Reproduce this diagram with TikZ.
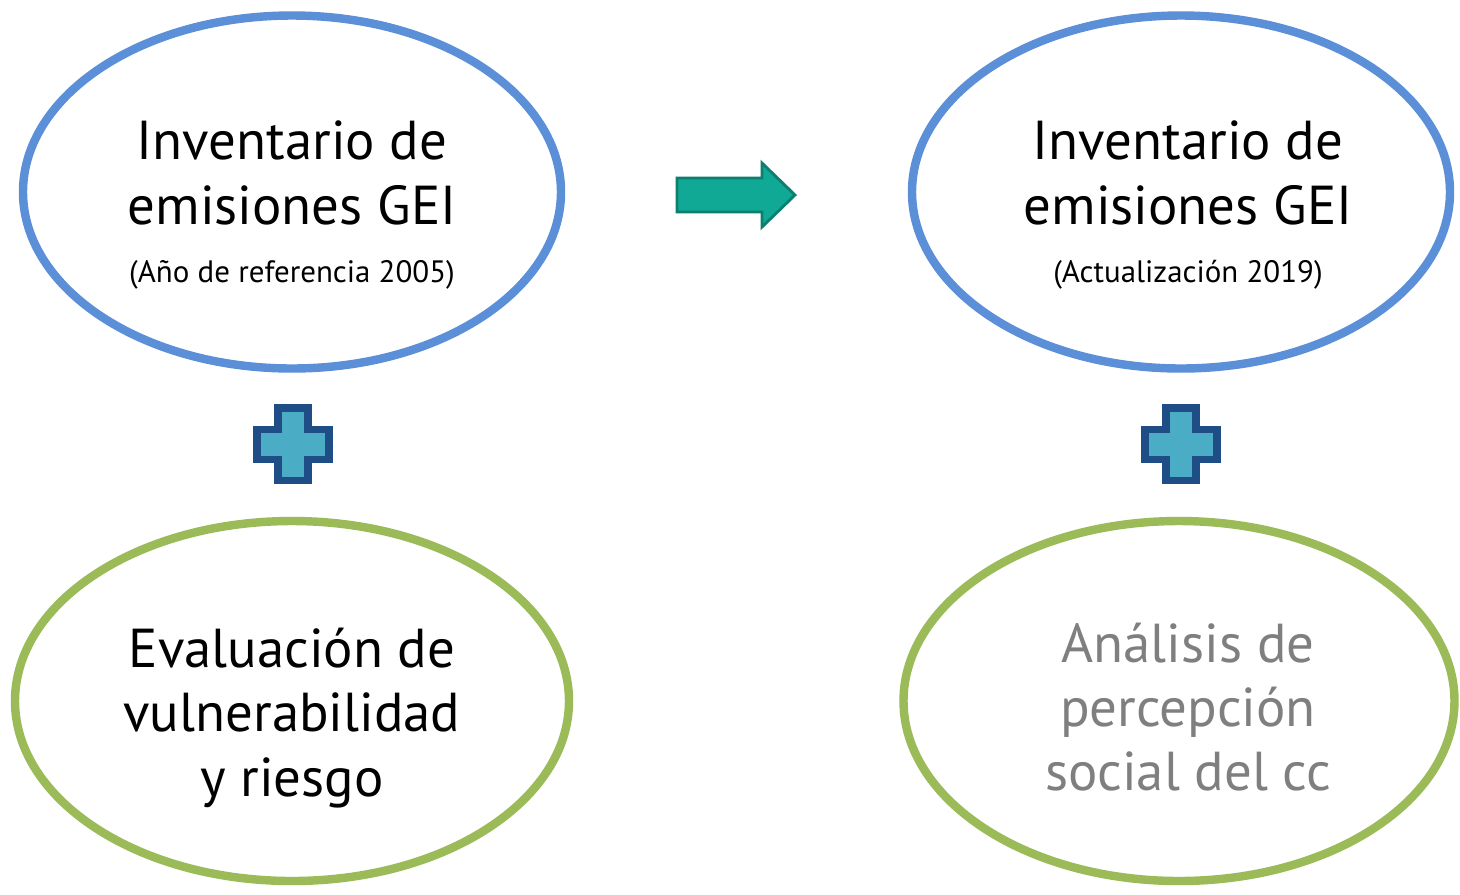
\documentclass[tikz,border=0pt]{standalone}
\usepackage{fontspec}
\setmainfont{PT Sans}
\usetikzlibrary{shapes.geometric}

\definecolor{ringblue}{HTML}{5B8FD7}
\definecolor{ringgreen}{HTML}{9BBB59}
\definecolor{plusfill}{HTML}{4BACC6}
\definecolor{plusline}{HTML}{1F4E87}
\definecolor{arrowfill}{HTML}{0FA995}
\definecolor{arrowline}{HTML}{0E7F6E}
\definecolor{softgray}{HTML}{7F7F7F}

\tikzset{
  ring/.style={ellipse, draw, line width=2.4pt, inner sep=0pt,
    minimum width=5.38cm, minimum height=3.53cm},
  bigtext/.style={align=center, font=\fontsize{15.6}{18.3}\selectfont},
  smalltext/.style={font=\fontsize{8.8}{11}\selectfont},
  plusmark/.style={fill=plusfill, draw=plusline, line width=2pt},
  pusharrow/.style={fill=arrowfill, draw=arrowline, line width=0.8pt}
}

\begin{document}
\begin{tikzpicture}
\useasboundingbox (0,0) rectangle (14.6,-8.94);

% top row: inventories
\node [ring, draw=ringblue] (inv1) at (2.92,-1.92) {};
\node [ring, draw=ringblue] (inv2) at (11.81,-1.92) {};
\node [bigtext] (inv1txt) at (2.92,-1.73) {Inventario de\\emisiones GEI};
\node [smalltext] (inv1sub) at (2.92,-2.75) {(Año de referencia 2005)};
\node [bigtext] (inv2txt) at (11.88,-1.73) {Inventario de\\emisiones GEI};
\node [smalltext] (inv2sub) at (11.88,-2.75) {(Actualización 2019)};

% bottom row
\node [ring, draw=ringgreen, minimum width=5.54cm, minimum height=3.6cm] (vul) at (2.92,-7.01) {};
\node [ring, draw=ringgreen, minimum width=5.51cm, minimum height=3.6cm] (per) at (11.79,-7.01) {};
\node [bigtext] (vultxt) at (2.92,-7.18) {Evaluación de\\vulnerabilidad\\y riesgo};
\node [bigtext, text=softgray] (pertxt) at (11.88,-7.07) {Análisis de\\percepción\\social del cc};

% plus signs
\foreach \cx/\nm in {2.93/plusA, 11.81/plusB} {
  \coordinate (\nm) at (\cx,-4.44);
  \draw [plusmark] ([shift={(-0.15,0.36)}]\nm) -- ++(0.30,0) -- ++(0,-0.21)
    -- ++(0.21,0) -- ++(0,-0.30) -- ++(-0.21,0) -- ++(0,-0.21) -- ++(-0.30,0)
    -- ++(0,0.21) -- ++(-0.21,0) -- ++(0,0.30) -- ++(0.21,0) -- cycle;
}

% arrow between the columns
\coordinate (tip) at (7.95,-1.95);
\draw [pusharrow] (tip) -- ++(-0.33,0.32) -- ++(0,-0.15) -- ++(-0.85,0)
  -- ++(0,-0.34) -- ++(0.85,0) -- ++(0,-0.15) -- cycle;

\end{tikzpicture}
\end{document}
